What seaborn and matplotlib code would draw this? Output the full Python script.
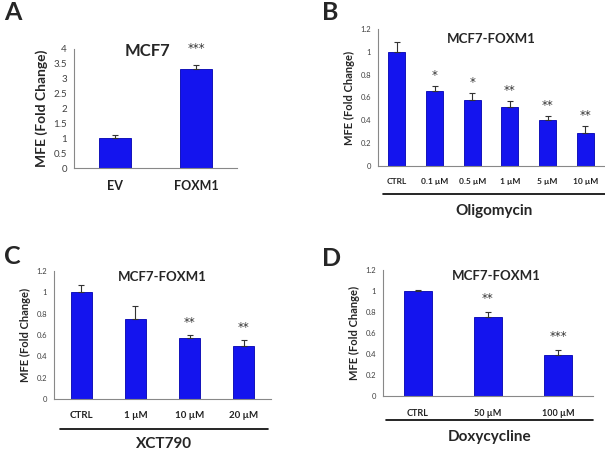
import numpy as np
import pandas as pd
import matplotlib
matplotlib.use("Agg")
import matplotlib.pyplot as plt
import seaborn as sns

sns.set_style("white")
plt.rcParams['font.family'] = ['Lato', 'DejaVu Sans']

# ---- data ----
a_cats = ["EV", "FOXM1"]
a_vals = [1.0, 3.32]
a_errs = [0.12, 0.13]
a_sig = ["", "***"]

b_cats = ["CTRL", "0.1 µM", "0.5 µM", "1 µM", "5 µM", "10 µM"]
b_vals = [1.0, 0.66, 0.58, 0.52, 0.40, 0.29]
b_errs = [0.09, 0.04, 0.06, 0.05, 0.04, 0.06]
b_sig = ["", "*", "*", "**", "**", "**"]

c_cats = ["CTRL", "1 µM", "10 µM", "20 µM"]
c_vals = [1.0, 0.75, 0.57, 0.50]
c_errs = [0.07, 0.12, 0.03, 0.05]
c_sig = ["", "", "**", "**"]

d_cats = ["CTRL", "50 µM", "100 µM"]
d_vals = [1.0, 0.75, 0.39]
d_errs = [0.01, 0.05, 0.05]
d_sig = ["", "**", "***"]

BLUE = "#1414EE"
fig = plt.figure(figsize=(6.05, 4.5), dpi=100)

def panel(rect, cats, vals, errs, sig, width, ymax, ystep, title,
          tfs, sfs, yfs, xfs, lfs, letter, letter_xy, sig_gap, title_xy,
          treat=None, line_y=None, treat_y=None, line_x=None, tr_fs=11):
    ax = fig.add_axes(rect)
    df = pd.DataFrame({"cat": cats, "val": vals})
    sns.barplot(data=df, x="cat", y="val", ax=ax, color=BLUE, width=width,
                errorbar=None, saturation=1, edgecolor="#0000B0", linewidth=0.6)
    x = np.arange(len(cats))
    ax.errorbar(x, vals, yerr=[np.zeros(len(vals)), errs], fmt="none",
                ecolor="#333333", elinewidth=0.8, capsize=2.5, capthick=0.8)
    ax.set_xlim(-0.5, len(cats) - 0.5)
    ax.set_ylim(0, ymax)
    yt = np.arange(0, ymax + 1e-9, ystep)
    ax.set_yticks(yt)
    ax.set_yticklabels([f"{round(v, 2):g}" for v in yt], fontsize=yfs, color="#404040")
    ax.set_xticks(x)
    ax.set_xticklabels(cats, fontsize=xfs, fontweight="bold", color="#222222")
    ax.set_xticks(np.arange(-0.5, len(cats)), minor=True)
    ax.tick_params(axis="x", which="major", length=0, pad=9)
    ax.tick_params(axis="x", which="minor", length=3, color="#888888", direction="out")
    ax.tick_params(axis="y", length=3, color="#888888", direction="out", pad=2)
    for s in ["top", "right"]:
        ax.spines[s].set_visible(False)
    for s in ["left", "bottom"]:
        ax.spines[s].set_color("#888888")
        ax.spines[s].set_linewidth(0.8)
    ax.set_xlabel("")
    ax.set_ylabel("MFE (Fold Change)", fontsize=lfs, fontweight="bold", labelpad=4)
    for xi, v, e, s in zip(x, vals, errs, sig):
        if s:
            ax.text(xi, v + e + sig_gap, s, ha="center", va="center",
                    fontsize=sfs, color="#333333", family="DejaVu Sans")
    ax.text(title_xy[0], title_xy[1], title, transform=ax.transAxes,
            ha="center", va="center", fontsize=tfs, fontweight="bold")
    fig.text(letter_xy[0], letter_xy[1], letter, fontsize=18, fontweight="bold",
             ha="left", va="center")
    if treat:
        fig.add_artist(plt.Line2D(line_x, [line_y, line_y], color="black", lw=1.2))
        fig.text((line_x[0] + line_x[1]) / 2, treat_y, treat, ha="center",
                 va="center", fontsize=tr_fs, fontweight="bold")
    return ax

W, H = 605.0, 450.0
panel([74/W, 1-168/H, 163/W, 119/H], a_cats, a_vals, a_errs, a_sig, 0.39, 4, 0.5,
      "MCF7", 12, 8.5, 7, 9, 10, "A", (4/W, 1-13/H), 0.55, (0.45, 0.98))
panel([378/W, 1-166/H, 226/W, 137/H], b_cats, b_vals, b_errs, b_sig, 0.45, 1.2, 0.2,
      "MCF7-FOXM1", 9.5, 8.5, 5.5, 6, 8, "B", (322/W, 1-12/H), 0.09, (0.5, 0.93),
      treat="Oligomycin", line_y=1-194/H, treat_y=1-211/H, line_x=[383/W, 605/W], tr_fs=11)
panel([54/W, 1-399/H, 217/W, 128/H], c_cats, c_vals, c_errs, c_sig, 0.39, 1.2, 0.2,
      "MCF7-FOXM1", 9.5, 8.5, 5.5, 7, 8, "C", (4/W, 1-257/H), 0.12, (0.5, 0.95),
      treat="XCT790", line_y=1-429/H, treat_y=1-444/H, line_x=[60/W, 268/W], tr_fs=11)
panel([383/W, 1-396/H, 210/W, 126/H], d_cats, d_vals, d_errs, d_sig, 0.4, 1.2, 0.2,
      "MCF7-FOXM1", 9.5, 8.5, 5.5, 6.5, 8, "D", (322/W, 1-258/H), 0.13, (0.54, 0.95),
      treat="Doxycycline", line_y=1-420/H, treat_y=1-437/H, line_x=[386/W, 593/W], tr_fs=11)

fig.savefig("out.png", dpi=100)
